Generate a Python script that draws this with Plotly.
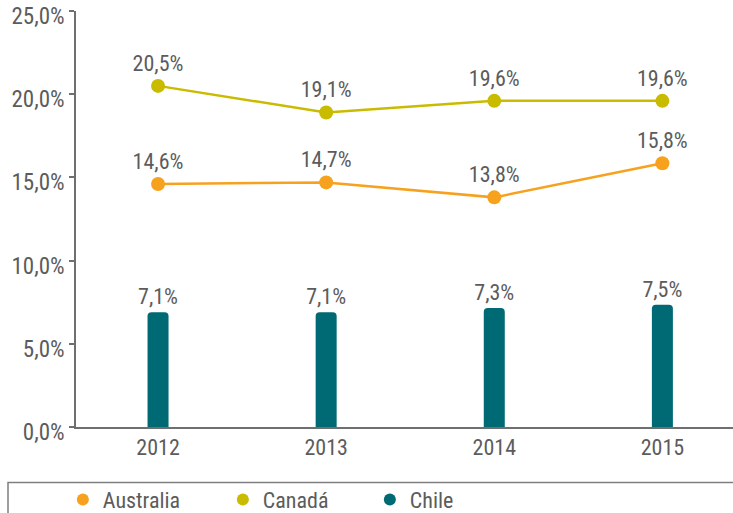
import plotly.graph_objects as go

years = ["2012", "2013", "2014", "2015"]
australia = [14.6, 14.7, 13.8, 15.85]
australia_labels = ["14,6%", "14,7%", "13,8%", "15,8%"]
canada = [20.5, 18.9, 19.6, 19.6]
canada_labels = ["20,5%", "19,1%", "19,6%", "19,6%"]
chile = [6.9, 6.9, 7.15, 7.35]
chile_labels = ["7,1%", "7,1%", "7,3%", "7,5%"]
y_ticks = [0, 5, 10, 15, 20, 25]
y_tick_labels = ["0,0%", "5,0%", "10,0%", "15,0%", "20,0%", "25,0%"]

FONT = "Liberation Sans Narrow, Roboto Condensed, Arial Narrow, sans-serif"
GRAY = "#5c5c5c"
C_AUS = "#F7A21E"
C_CAN = "#C9BC00"
C_CHI = "#006A74"


def f(size=22):
    return dict(size=size, color=GRAY, family=FONT, weight=400)


fig = go.Figure()
fig.add_trace(go.Bar(
    x=years, y=chile, name="Chile", width=0.125, showlegend=False,
    text=chile_labels, textposition="outside", constraintext="none",
    textfont=f(),
    marker=dict(color=C_CHI, cornerradius=4, line=dict(width=0)),
    cliponaxis=False,
))
fig.add_trace(go.Scatter(
    x=years, y=australia, name="Australia", mode="lines+markers+text",
    text=australia_labels, textposition="top center", showlegend=False,
    textfont=f(),
    line=dict(color=C_AUS, width=2.5), marker=dict(size=14, color=C_AUS),
    cliponaxis=False,
))
fig.add_trace(go.Scatter(
    x=years, y=canada, name="Canadá", mode="lines+markers+text",
    text=canada_labels, textposition="top center", showlegend=False,
    textfont=f(),
    line=dict(color=C_CAN, width=2.5), marker=dict(size=14, color=C_CAN),
    cliponaxis=False,
))

# legend entries (circle markers only)
for name, color, lw in [("Australia", C_AUS, 115), ("Canadá", C_CAN, 102), ("Chile", C_CHI, None)]:
    fig.add_trace(go.Scatter(
        x=[None], y=[None], mode="markers", name=name,
        marker=dict(size=14, color=color, symbol="circle"),
        legendwidth=lw, showlegend=True,
    ))

fig.add_shape(type="rect", xref="paper", yref="paper",
              x0=(8 - 76) / 657, x1=1.05, y0=(427 - 482.5) / 416, y1=-0.5,
              line=dict(color="#7f7f7f", width=1.5), fillcolor="rgba(0,0,0,0)")

fig.update_layout(
    width=733, height=513,
    margin=dict(l=76, r=0, t=11, b=86, autoexpand=False),
    paper_bgcolor="white", plot_bgcolor="white",
    font=f(),
    showlegend=True,
    legend=dict(orientation="h", x=-0.02, xanchor="left", y=-0.175, yanchor="middle",
                font=f(), bgcolor="rgba(0,0,0,0)",
                itemsizing="constant", traceorder="normal"),
    xaxis=dict(range=[-0.488, 3.42], showline=True, linecolor="#6f6f6f", linewidth=1.5,
               ticks="", showgrid=False, zeroline=False, automargin=False,
               tickfont=f()),
    yaxis=dict(range=[0, 25], tickvals=y_ticks, ticktext=y_tick_labels,
               showline=True, linecolor="#6f6f6f", linewidth=1.5,
               ticks="outside", ticklen=5, tickcolor="#6f6f6f", tickwidth=1.5,
               showgrid=False, zeroline=False, automargin=False,
               ticklabelshift=5, ticklabeloverflow="allow",
               tickfont=f(23)),
)

fig.write_html("out.html", config={"displayModeBar": False},
               post_script="document.body.style.margin='0';")
